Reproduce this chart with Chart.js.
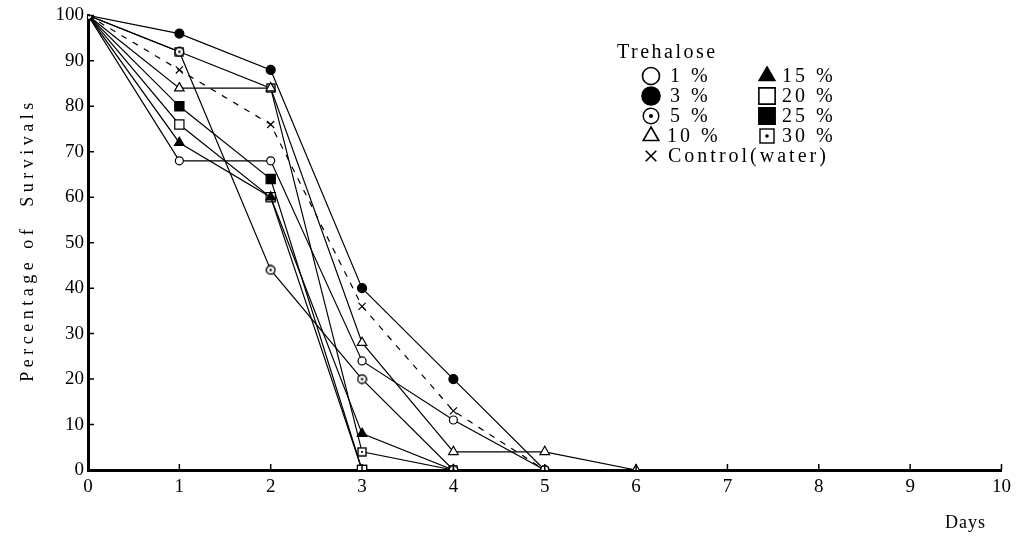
<!DOCTYPE html>
<html>
<head>
<meta charset="utf-8">
<script src="https://cdn.jsdelivr.net/npm/chart.js@4.4.1/dist/chart.umd.min.js"></script>
<style>
  html, body { margin: 0; padding: 0; background: #fff; }
  #wrap { width: 1017px; height: 541px; position: relative; }
</style>
</head>
<body>
<div id="wrap"><canvas id="survChart"></canvas></div>
<script>
// values per day, starting at day 0
const tre1 = [100, 68, 68, 24, 11, 0];
const tre3 = [100, 96, 88, 40, 20, 0];
const tre5 = [100, 92, 44, 20, 0];
const tre10 = [100, 84, 84, 28, 4, 4, 0];
const tre15 = [100, 72, 60, 8, 0];
const tre20 = [100, 76, 60, 0];
const tre25 = [100, 80, 64, 0];
const tre30 = [100, 92, 84, 4, 0];
const control = [100, 88, 76, 36, 13, 0];

const xTicks = [0, 1, 2, 3, 4, 5, 6, 7, 8, 9, 10];
const yTicks = [0, 10, 20, 30, 40, 50, 60, 70, 80, 90, 100];

const legendLabels = ['1 %', '3 %', '5 %', '10 %', '15 %', '20 %', '25 %', '30 %', 'Control(water)'];

const FONT = '"Liberation Serif", "DejaVu Serif", serif';

// petits marqueurs avec un point au centre
function dotMarker(kind, size) {
    const c = document.createElement('canvas');
    c.width = size; c.height = size;
    const g = c.getContext('2d');
    const m = size / 2;
    g.strokeStyle = '#000';
    g.fillStyle = '#fff';
    g.lineWidth = 1.4;
    if (kind === 'circle') {
        g.beginPath();
        g.arc(m, m, m - 1.2, 0, Math.PI * 2);
        g.fill(); g.stroke();
    } else {
        g.fillRect(1, 1, size - 2, size - 2);
        g.strokeRect(1, 1, size - 2, size - 2);
    }
    g.fillStyle = '#000';
    g.beginPath();
    g.arc(m, m, Math.max(1, size / 9), 0, Math.PI * 2);
    g.fill();
    return c;
}

const dotCircleSmall = dotMarker('circle', 11);
const dotSquareSmall = dotMarker('square', 10);
const dotCircleBig = dotMarker('circle', 18);
const dotSquareBig = dotMarker('square', 16);

function toPoints(arr) {
    return arr.map((v, i) => ({ x: i, y: v }));
}

function makeSet(label, arr, style, fill, radius, dash) {
    return {
        label: label,
        data: toPoints(arr),
        borderColor: '#000',
        borderWidth: 1.2,
        borderDash: dash || [],
        pointStyle: style,
        pointRadius: radius,
        pointBackgroundColor: fill,
        pointBorderColor: '#000',
        pointBorderWidth: 1.2,
        tension: 0,
        fill: false
    };
}

const datasets = [
    makeSet('1 %', tre1, 'circle', '#fff', 4),
    makeSet('3 %', tre3, 'circle', '#000', 4.5),
    makeSet('5 %', tre5, dotCircleSmall, '#fff', 5),
    makeSet('10 %', tre10, 'triangle', '#fff', 5.5),
    makeSet('15 %', tre15, 'triangle', '#000', 5.5),
    makeSet('20 %', tre20, 'rect', '#fff', 6.5),
    makeSet('25 %', tre25, 'rect', '#000', 6.5),
    makeSet('30 %', tre30, dotSquareSmall, '#fff', 5),
    makeSet('Control(water)', control, 'crossRot', '#000', 5, [6, 7])
];

// marqueurs de la légende (plus grands)
const legendMarkers = [
    { style: 'circle', fill: '#fff', r: 8.5 },
    { style: 'circle', fill: '#000', r: 9 },
    { style: dotCircleBig, fill: '#fff', r: 8 },
    { style: 'triangle', fill: '#fff', r: 9 },
    { style: 'triangle', fill: '#000', r: 9 },
    { style: 'rect', fill: '#fff', r: 11.5 },
    { style: 'rect', fill: '#000', r: 11.5 },
    { style: dotSquareBig, fill: '#fff', r: 8 },
    { style: 'crossRot', fill: '#000', r: 7.5 }
];

const decorPlugin = {
    id: 'decor',
    beforeDraw(chart) {
        const ctx = chart.ctx;
        ctx.save();
        ctx.fillStyle = '#fff';
        ctx.fillRect(0, 0, chart.width, chart.height);
        ctx.restore();
    },
    afterDraw(chart) {
        const ctx = chart.ctx;
        const xs = chart.scales.x;
        const ys = chart.scales.y;
        ctx.save();
        // petites graduations vers l'intérieur
        ctx.strokeStyle = '#000';
        ctx.lineWidth = 1.5;
        ctx.beginPath();
        xTicks.forEach(t => {
            if (t === 0) return;
            const px = xs.getPixelForValue(t);
            ctx.moveTo(px, ys.bottom);
            ctx.lineTo(px, ys.bottom - 6);
        });
        yTicks.forEach(t => {
            if (t === 0) return;
            const py = ys.getPixelForValue(t);
            ctx.moveTo(xs.left, py);
            ctx.lineTo(xs.left + 6, py);
        });
        ctx.stroke();

        // titres des axes
        ctx.fillStyle = '#000';
        ctx.font = '18px ' + FONT;
        ctx.letterSpacing = '4.5px';
        ctx.textAlign = 'center';
        ctx.textBaseline = 'middle';
        ctx.save();
        ctx.translate(28, 240);
        ctx.rotate(-Math.PI / 2);
        ctx.fillText('Percentage of  Survivals', 0, 0);
        ctx.restore();
        ctx.letterSpacing = '1px';
        ctx.textAlign = 'right';
        ctx.fillText('Days', 986, 523);

        // légende
        ctx.textAlign = 'left';
        ctx.letterSpacing = '2.5px';
        ctx.font = '20px ' + FONT;
        ctx.fillText('Trehalose', 617, 53);
        ctx.letterSpacing = '3px';
        const rowY = [76, 96, 116, 136, 156];
        legendMarkers.forEach((m, i) => {
            let cx, cy, tx;
            if (i < 4) { cx = 651; cy = rowY[i]; tx = i === 3 ? 667 : 670; }
            else if (i < 8) { cx = 767; cy = rowY[i - 4]; tx = 782; }
            else { cx = 651; cy = rowY[4]; tx = 668; }
            ctx.fillStyle = m.fill;
            ctx.strokeStyle = '#000';
            ctx.lineWidth = 1.6;
            Chart.helpers.drawPoint(ctx, {
                pointStyle: m.style,
                radius: m.r,
                borderWidth: 1.6,
                rotation: 0
            }, cx, cy);
            ctx.fillStyle = '#000';
            ctx.fillText(legendLabels[i], tx, cy + 1);
        });
        ctx.restore();
    }
};

const ctx = document.getElementById('survChart').getContext('2d');
new Chart(ctx, {
    type: 'line',
    data: { datasets: datasets },
    options: {
        responsive: true,
        maintainAspectRatio: false,
        animation: false,
        layout: { padding: { top: 15, right: 12, left: 0, bottom: 0 } },
        plugins: {
            legend: { display: false },
            tooltip: { enabled: false }
        },
        scales: {
            x: {
                type: 'linear',
                min: 0,
                max: 10,
                afterFit: s => { s.height = 71; },
                afterBuildTicks: s => { s.ticks = xTicks.map(v => ({ value: v })); },
                grid: { display: false, drawTicks: false },
                border: { display: true, color: '#000', width: 3 },
                ticks: {
                    color: '#000',
                    padding: 6,
                    maxRotation: 0,
                    font: { family: FONT, size: 19 }
                }
            },
            y: {
                type: 'linear',
                min: 0,
                max: 100,
                afterFit: s => { s.width = 88; },
                afterBuildTicks: s => { s.ticks = yTicks.map(v => ({ value: v })); },
                grid: { display: false, drawTicks: false },
                border: { display: true, color: '#000', width: 3 },
                ticks: {
                    color: '#000',
                    padding: 4,
                    font: { family: FONT, size: 19 }
                }
            }
        }
    },
    plugins: [decorPlugin]
});
</script>
</body>
</html>
